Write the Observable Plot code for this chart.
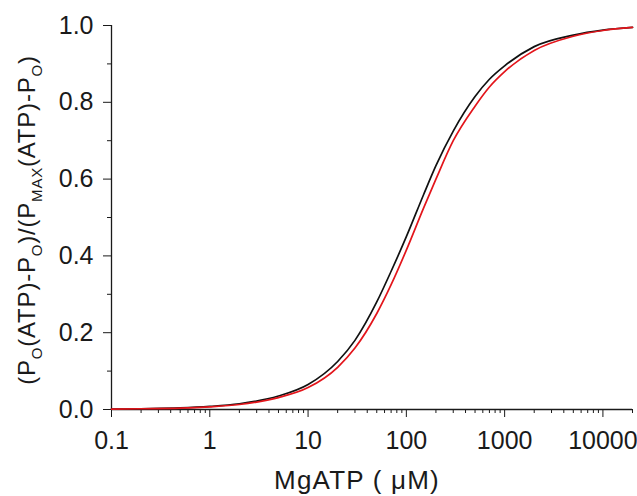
<!DOCTYPE html>
<html><head><meta charset="utf-8">
<script src="https://cdn.jsdelivr.net/npm/d3@7"></script>
<script src="https://cdn.jsdelivr.net/npm/@observablehq/plot@0.6"></script>
<style>
body{margin:0;background:#fff}
svg{font-family:"Liberation Sans",Arial,sans-serif}
</style>
</head><body><div id="chart"></div>
<script>
// MgATP concentrations (µM) sampled along the curves
const mgATP = [0.1, 0.2, 0.5, 1, 2, 5, 10, 20, 30, 50, 70, 100, 150, 200, 300, 500, 700, 1000, 2000, 5000, 10000, 20000];
// normalized Po, black curve
const blackCurve = [0.001, 0.002, 0.004, 0.008, 0.015, 0.035, 0.065, 0.125, 0.18, 0.28, 0.36, 0.45, 0.56, 0.635, 0.725, 0.815, 0.86, 0.895, 0.945, 0.975, 0.988, 0.995];
// normalized Po, red curve
const redCurve = [0.001, 0.002, 0.0035, 0.007, 0.013, 0.031, 0.057, 0.11, 0.16, 0.25, 0.325, 0.415, 0.525, 0.60, 0.70, 0.79, 0.84, 0.88, 0.935, 0.972, 0.987, 0.995];

const xTickLabels = ["0.1", "1", "10", "100", "1000", "10000"];
const xTicks = [0.1, 1, 10, 100, 1000, 10000];
const xMinor = [0.2,0.3,0.4,0.5,0.6,0.7,0.8,0.9, 2,3,4,5,6,7,8,9, 20,30,40,50,60,70,80,90, 200,300,400,500,600,700,800,900, 2000,3000,4000,5000,6000,7000,8000,9000, 20000];
const yTicks = [0, 0.2, 0.4, 0.6, 0.8, 1.0];
const yMinor = [0.1, 0.3, 0.5, 0.7, 0.9];

const rows = mgATP.map((c, i) => ({x: c, y: blackCurve[i]}));
const rowsRed = mgATP.map((c, i) => ({x: c, y: redCurve[i]}));

const axisColor = "#1a1a1a";
const chart = Plot.plot({
  width: 637,
  height: 496,
  marginLeft: 111,
  marginTop: 25,
  marginRight: 5,
  marginBottom: 87,
  style: {fontFamily: "'Liberation Sans', Arial, sans-serif", background: "#fff"},
  x: {type: "log", domain: [0.1, 20000]},
  y: {domain: [0, 1]},
  marks: [
    Plot.axisX({ticks: xMinor, tickSize: 4, tickFormat: () => "", label: null, color: axisColor}),
    Plot.axisX({ticks: xTicks, tickSize: 8, tickPadding: 14, tickFormat: d => xTickLabels[xTicks.indexOf(d)], fontSize: 25, label: null, color: axisColor}),
    Plot.axisY({ticks: yMinor, tickSize: 4, tickFormat: () => "", label: null, color: axisColor}),
    Plot.axisY({ticks: yTicks, tickSize: 8, tickPadding: 10, tickFormat: d3.format(".1f"), fontSize: 25, label: null, color: axisColor}),
    Plot.ruleY([0], {stroke: axisColor, strokeWidth: 1.3}),
    Plot.ruleX([0.1], {stroke: axisColor, strokeWidth: 1.3}),
    Plot.line(rows, {x: "x", y: "y", stroke: "#111", strokeWidth: 1.7, curve: "monotone-x"}),
    Plot.line(rowsRed, {x: "x", y: "y", stroke: "#e3151b", strokeWidth: 1.7, curve: "monotone-x"})
  ]
});

const svg = d3.select(chart);
// x axis title
svg.append("text")
  .attr("x", 357).attr("y", 489)
  .attr("text-anchor", "middle")
  .style("font-size", "26px")
  .style("letter-spacing", "1.2px")
  .attr("fill", axisColor)
  .text("MgATP ( μM)");

// y axis title with subscripts
const yl = svg.append("text")
  .attr("transform", "translate(35,220) rotate(-90)")
  .attr("text-anchor", "middle")
  .style("font-size", "24px")
  .style("letter-spacing", "0.8px")
  .attr("fill", axisColor);
const parts = [
  ["(P", false], ["O", true], ["(ATP)-P", false], ["O", true], [")/(P", false],
  ["MAX", true], ["(ATP)-P", false], ["O", true], [")", false]
];
let shifted = false;
parts.forEach(([t, sub]) => {
  const ts = yl.append("tspan").text(t);
  if (sub) {
    ts.style("font-size", "15px");
    if (!shifted) { ts.attr("dy", 7); shifted = true; }
  } else if (shifted) {
    ts.attr("dy", -7); shifted = false;
  }
});

document.getElementById("chart").appendChild(chart);
</script>
</body></html>
